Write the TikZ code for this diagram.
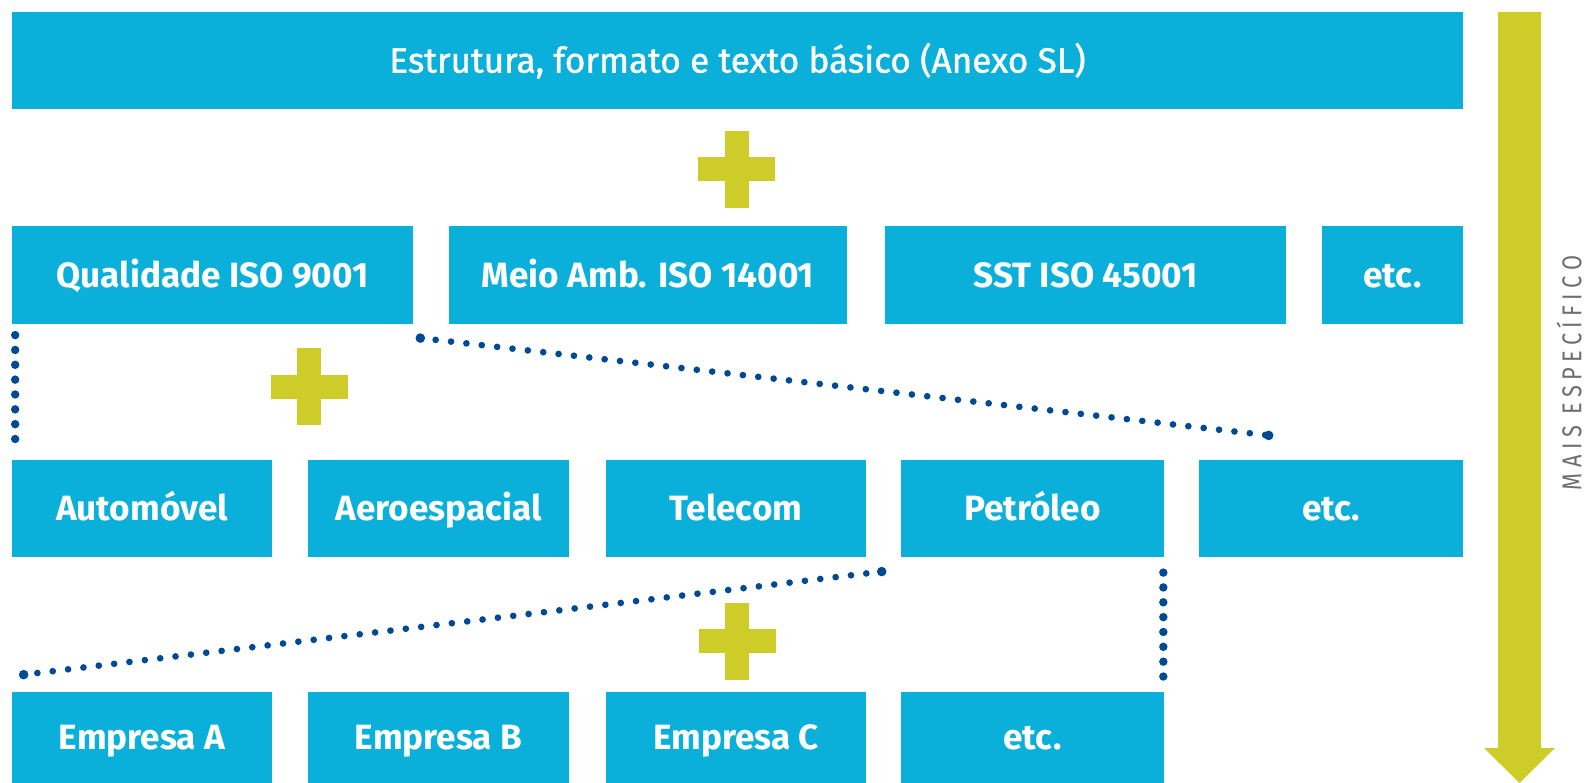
\documentclass[tikz,border=0pt]{standalone}
\usepackage{fontspec}
\setmainfont{Fira Sans}
\newfontfamily\condfont[FakeBold=1.2]{Fira Sans}
\newfontfamily\sidefont[FakeStretch=0.8,LetterSpace=20]{Fira Sans}
\usepackage{xcolor}
\usetikzlibrary{calc, positioning}
\definecolor{boxblue}{HTML}{0BB0DA}
\definecolor{plusolive}{HTML}{CDCC29}
\definecolor{dotnavy}{HTML}{004A94}
\definecolor{labelgray}{HTML}{6D6E71}

\begin{document}
\begin{tikzpicture}[x=0.02cm, y=-0.02cm,
    bluebox/.style={fill=boxblue, text=white, inner sep=0pt,
        minimum height=1.95cm, text height=13.8pt, text depth=0pt,
        font=\bfseries\fontsize{20}{22}\selectfont},
    dotline/.style={dotnavy, line width=3.8pt, line cap=round,
        dash pattern=on 0pt off 8.8pt},
    dotpost/.style={dotnavy, line width=4.8pt, line cap=round,
        dash pattern=on 0pt off 8.45pt},
    enddot/.style={dotnavy, line width=0pt, fill},
    plusmark/.pic={
        \fill[plusolive] (-38.5,-12) rectangle (38.5,12);
        \fill[plusolive] (-12,-38.5) rectangle (12,38.5);
    }]

    \useasboundingbox (0,0) rectangle (1585,783);

    % Base layer
    \node[bluebox, minimum width=29.02cm, font=\condfont\fontsize{20}{22}\selectfont]
        (base) at (737.5,60.5) {Estrutura, formato e texto básico (Anexo SL)};
    \pic at (736.5,169.5) {plusmark};

    % Standards
    \node[bluebox, minimum width=8.02cm] (qual) at (212.5,275) {Qualidade ISO 9001};
    \node[bluebox, minimum width=7.96cm] (meio) at (648,275) {Meio Amb. ISO 14001};
    \node[bluebox, minimum width=8.02cm] (sst) at (1085.5,275) {SST ISO 45001};
    \node[bluebox, minimum width=2.82cm] (etcb) at (1392.5,275) {etc.};
    \pic at (309,387) {plusmark};

    % Sectors
    \node[bluebox, minimum width=5.2cm] (auto) at (142,508.5) {Automóvel};
    \node[bluebox, minimum width=5.22cm] (aero) at (438.5,508.5) {Aeroespacial};
    \node[bluebox, minimum width=5.2cm] (tele) at (736,508.5) {Telecom};
    \node[bluebox, minimum width=5.26cm] (petr) at (1032.5,508.5) {Petróleo};
    \node[bluebox, minimum width=5.28cm] (etcc) at (1331,508.5) {etc.};
    \pic at (737,641) {plusmark};

    % Companies
    \node[bluebox, minimum width=5.2cm, minimum height=1.82cm] (empa) at (142,737.5) {Empresa A};
    \node[bluebox, minimum width=5.22cm, minimum height=1.82cm] (empb) at (438.5,737.5) {Empresa B};
    \node[bluebox, minimum width=5.2cm, minimum height=1.82cm] (empc) at (736,737.5) {Empresa C};
    \node[bluebox, minimum width=5.26cm, minimum height=1.82cm] (etcd) at (1032.5,737.5) {etc.};

    % Dotted links
    \draw[dotpost] ($(qual.south west)+(3.5,11)$) -- ($(auto.north west)+(3.5,-19)$);
    \draw[dotline] ($(qual.south east)+(7,14)$) -- ($(etcc.north west)+(70,-24)$);
    \fill[enddot] ($(qual.south east)+(7,14)$) circle (4.8);
    \fill[enddot] ($(etcc.north west)+(70,-24)$) circle (4.8);
    \draw[dotline] ($(petr.south west)+(-19,14)$) -- ($(empa.north west)+(12,-17)$);
    \fill[enddot] ($(petr.south west)+(-19,14)$) circle (4.8);
    \fill[enddot] ($(empa.north west)+(12,-17)$) circle (4.8);
    \draw[dotpost] ($(petr.south east)+(-1,15)$) -- ($(etcd.north east)+(-1,-15)$);

    % Arrow on the right
    \fill[plusolive] (1498,12) -- (1541,12) -- (1541,748) -- (1555,748)
        -- (1519.5,783) -- (1484,748) -- (1498,748) -- cycle;
    \node[rotate=90, inner sep=0pt, text=labelgray, text height=10.2pt, text depth=0pt,
        font=\sidefont\fontsize{15.5}{17}\selectfont]
        (side) at (1572.5,373) {MAIS ESPECÍFICO};

\end{tikzpicture}
\end{document}
